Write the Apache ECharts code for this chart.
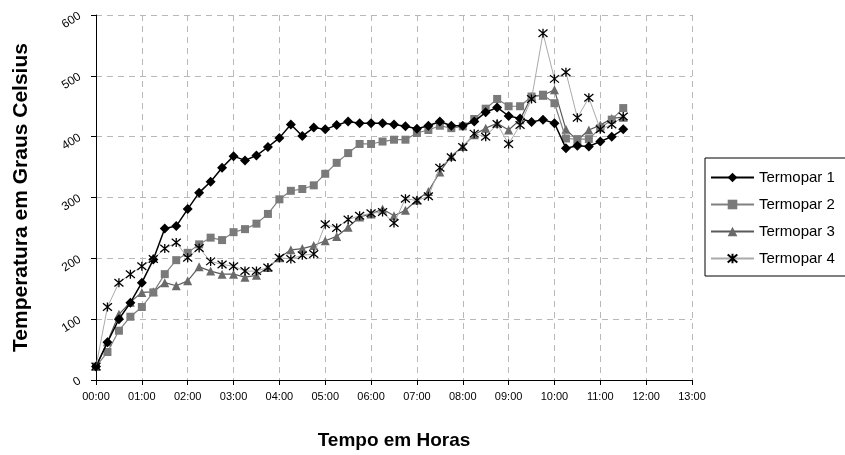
<!DOCTYPE html>
<html>
<head>
<meta charset="utf-8">
<script src="https://cdn.jsdelivr.net/npm/echarts@6/dist/echarts.min.js"></script>
<style>
html,body{margin:0;padding:0;background:#fff;}
#chart{width:845px;height:455px;}
</style>
</head>
<body>
<div id="chart"></div>
<script>
var times = ["00:00","00:15","00:30","00:45","01:00","01:15","01:30","01:45","02:00","02:15","02:30","02:45",
  "03:00","03:15","03:30","03:45","04:00","04:15","04:30","04:45","05:00","05:15","05:30","05:45",
  "06:00","06:15","06:30","06:45","07:00","07:15","07:30","07:45","08:00","08:15","08:30","08:45",
  "09:00","09:15","09:30","09:45","10:00","10:15","10:30","10:45","11:00","11:15","11:30"];

var termopar1 = [22,62,100,127,160,198,249,253,281,308,326,349,368,361,369,383,398,420,401,415,412,419,425,422,
  422,422,420,417,413,418,425,418,418,425,440,448,434,430,424,428,422,381,385,384,392,400,412];
var termopar2 = [22,46,81,104,120,144,174,197,209,223,234,230,243,248,257,273,297,311,314,320,339,357,373,388,
  388,392,395,395,406,411,418,414,417,429,446,462,450,450,466,469,455,397,396,396,414,428,447];
var termopar3 = [22,63,108,128,144,145,160,155,163,186,179,174,174,169,172,185,201,214,216,221,229,236,251,268,
  273,281,270,279,296,310,342,368,384,403,414,422,411,428,466,468,477,412,394,411,419,430,432];
var termopar4 = [22,120,160,174,187,199,216,226,201,217,195,190,187,179,179,185,201,199,205,207,256,250,264,270,
  274,276,258,298,295,302,349,366,383,405,400,421,388,419,462,570,495,506,431,464,412,420,433];

var xTickLabels = ["00:00","01:00","02:00","03:00","04:00","05:00","06:00","07:00","08:00","09:00","10:00","11:00","12:00","13:00"];
var yTicks = [0,100,200,300,400,500,600];

function toHours(t){ var p = t.split(":"); return parseInt(p[0],10) + parseInt(p[1],10)/60; }
function pairs(vals){ return vals.map(function(v,i){ return [toHours(times[i]), v]; }); }

var starPath = 'path://M0,0L10,10M10,0L0,10M5,-1L5,11';
var chart = echarts.init(document.getElementById('chart'));
var font = "'Liberation Sans', Arial, sans-serif";
chart.setOption({
  animation: false,
  backgroundColor: '#fff',
  grid: {left: 96, right: 153, top: 15, bottom: 74, containLabel: false},
  xAxis: {
    type: 'value', min: 0, max: 13, interval: 1,
    name: 'Tempo em Horas', nameLocation: 'middle', nameGap: 51,
    nameTextStyle: {fontFamily: font, fontWeight: 'bold', fontSize: 19, color: '#000'},
    axisLine: {lineStyle: {color: '#000', width: 1}},
    axisTick: {show: true, length: 5, lineStyle: {color: '#000'}},
    axisLabel: {fontFamily: font, fontSize: 11, color: '#000', margin: 11,
      formatter: function(v){ return xTickLabels[Math.round(v)]; }},
    splitLine: {show: true, lineStyle: {color: '#b8b8b8', type: [6, 5], width: 1}}
  },
  yAxis: {
    type: 'value', min: 0, max: 600, interval: 100,
    name: 'Temperatura em Graus Celsius', nameLocation: 'middle', nameGap: 64, nameRotate: 90,
    nameTextStyle: {fontFamily: font, fontWeight: 'bold', fontSize: 21, color: '#000'},
    axisLine: {show: true, lineStyle: {color: '#000', width: 1}},
    axisTick: {show: true, length: 5, lineStyle: {color: '#000'}},
    axisLabel: {fontFamily: font, fontSize: 12, color: '#000', rotate: 32, margin: 16,
      formatter: function(v){ return yTicks.indexOf(v) >= 0 ? String(v) : ''; }},
    splitLine: {show: true, lineStyle: {color: '#b8b8b8', type: [6, 5], width: 1}}
  },
  legend: {
    orient: 'vertical', left: 705, top: 158,
    padding: [12, 30, 10, 5],
    borderColor: '#000', borderWidth: 1,
    itemWidth: 43, itemHeight: 12, itemGap: 12,
    textStyle: {fontFamily: font, fontSize: 15, color: '#000', padding: [0,0,0,0]},
    data: ['Termopar 1','Termopar 2','Termopar 3','Termopar 4']
  },
  series: [
    {name: 'Termopar 1', type: 'line', data: pairs(termopar1), z: 5,
      symbol: 'diamond', symbolSize: 10, showAllSymbol: true,
      lineStyle: {color: '#000', width: 1.5},
      itemStyle: {color: '#000'}},
    {name: 'Termopar 2', type: 'line', data: pairs(termopar2), z: 4,
      symbol: 'rect', symbolSize: 8, showAllSymbol: true,
      lineStyle: {color: '#808080', width: 1.2},
      itemStyle: {color: '#7a7a7a'}},
    {name: 'Termopar 3', type: 'line', data: pairs(termopar3), z: 3,
      symbol: 'triangle', symbolSize: 9, showAllSymbol: true,
      lineStyle: {color: '#5a5a5a', width: 1.2},
      itemStyle: {color: '#6a6a6a'}},
    {name: 'Termopar 4', type: 'line', data: pairs(termopar4), z: 6,
      symbol: starPath, symbolSize: 9, showAllSymbol: true,
      lineStyle: {color: '#aaaaaa', width: 1},
      itemStyle: {color: 'none', borderColor: '#000', borderWidth: 1.3}}
  ]
});
</script>
</body>
</html>
